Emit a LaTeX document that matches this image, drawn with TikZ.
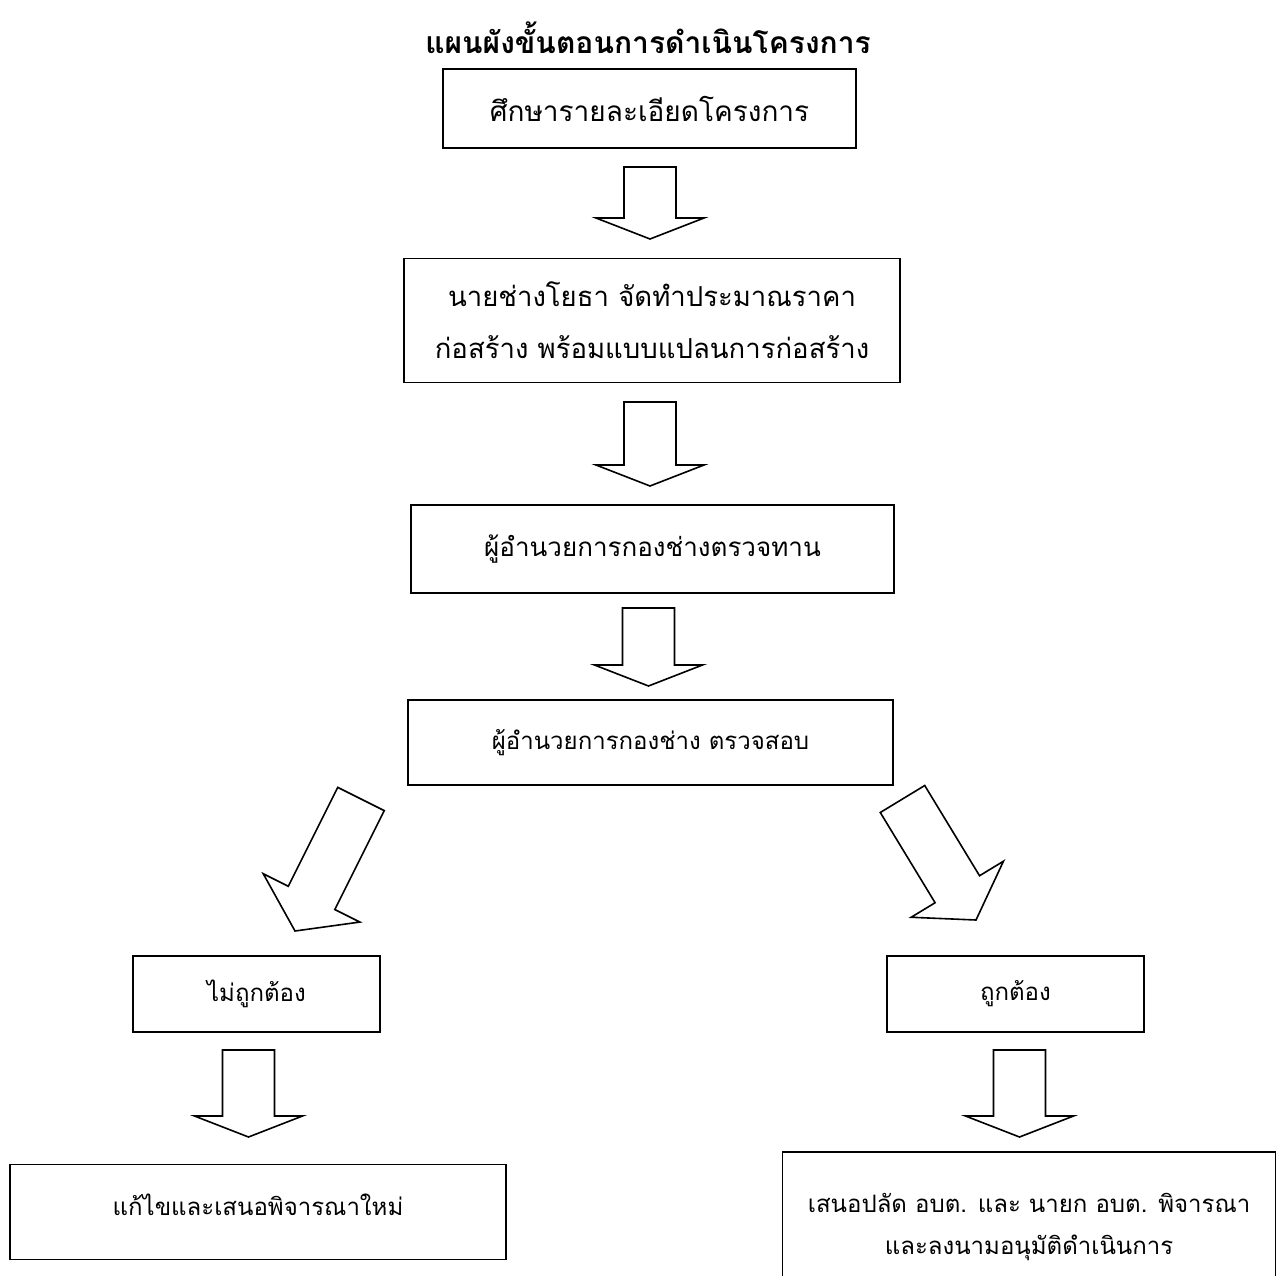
\documentclass[tikz,border=0pt]{standalone}
\usepackage{fontspec}
\setmainfont[Script=Thai]{Loma}
\usetikzlibrary{calc}

\tikzset{
  box/.style={draw=black, line width=1.6pt, inner sep=0pt, align=center},
  bigarrow/.style={draw=black, line width=1.6pt, line join=miter},
  bodytext/.style={font=\fontsize{26}{34}\selectfont},
  smalltext/.style={font=\fontsize{24}{30}\selectfont},
}

% hollow block arrow from #2 (middle of the tail) to #3 (tip), #1 = head length
\newcommand{\fatarrow}[3][21pt]{%
  \coordinate (headbase) at ($(#3)!#1!(#2)$);
  \draw[bigarrow] ($(#2)!26pt!90:(#3)$) -- ($(headbase)!26pt!90:(#3)$)
    -- ($(headbase)!54pt!90:(#3)$) -- (#3)
    -- ($(headbase)!54pt!-90:(#3)$) -- ($(headbase)!26pt!-90:(#3)$)
    -- ($(#2)!26pt!-90:(#3)$) -- cycle;
}

\begin{document}
\begin{tikzpicture}[x=1pt, y=-1pt]
  \useasboundingbox (0,0) rectangle (1279,1276);
  \clip (0,0) rectangle (1279,1276);

  \node[font=\fontsize{30}{36}\selectfont\bfseries] (title) at (648,38) {แผนผังขั้นตอนการดำเนินโครงการ};

  % main column
  \node[box, font=\fontsize{28}{34}\selectfont, minimum width=413pt, minimum height=79pt] (study) at (649.5,108.5) {ศึกษารายละเอียดโครงการ};
  \node[box, font=\fontsize{27.5}{34}\selectfont, minimum width=496pt, minimum height=124pt] (estimate) at (652,320.5)
    {นายช่างโยธา จัดทำประมาณราคา\\[18pt]ก่อสร้าง พร้อมแบบแปลนการก่อสร้าง};
  \node[box, bodytext, minimum width=483pt, minimum height=88pt] (review) at (652.5,549) {ผู้อำนวยการกองช่างตรวจทาน};
  \node[box, smalltext, minimum width=485pt, minimum height=85pt] (check) at (650.5,742.5) {ผู้อำนวยการกองช่าง ตรวจสอบ};

  % two branches
  \node[box, smalltext, minimum width=247pt, minimum height=76pt] (wrong) at (256.5,994) {ไม่ถูกต้อง};
  \node[box, smalltext, minimum width=257pt, minimum height=76pt] (right) at (1015.5,994) {ถูกต้อง};
  \node[box, smalltext, minimum width=496pt, minimum height=95pt, text depth=14pt] (redo) at (258,1212) {แก้ไขและเสนอพิจารณาใหม่};
  \node[box, smalltext, minimum width=493pt, minimum height=150pt] (approve) at (1029,1227)
    {เสนอปลัด อบต. และ นายก อบต. พิจารณา\\[12pt]และลงนามอนุมัติดำเนินการ};

  % arrow ends
  \coordinate (a1s) at (650,167);    \coordinate (a1e) at (650,239);
  \coordinate (a2s) at (650,402);    \coordinate (a2e) at (650,486);
  \coordinate (a3s) at (648.5,608);  \coordinate (a3e) at (648.5,686);
  \coordinate (dls) at (361,799);    \coordinate (dle) at (295,931);
  \coordinate (drs) at (902.5,799);  \coordinate (dre) at (976,920);
  \coordinate (a4s) at (248.5,1050); \coordinate (a4e) at (248.5,1137);
  \coordinate (a5s) at (1019.5,1050); \coordinate (a5e) at (1019.5,1137);

  \fatarrow{a1s}{a1e}
  \fatarrow{a2s}{a2e}
  \fatarrow{a3s}{a3e}
  \fatarrow[37pt]{dls}{dle}
  \fatarrow[36pt]{drs}{dre}
  \fatarrow{a4s}{a4e}
  \fatarrow{a5s}{a5e}
\end{tikzpicture}
\end{document}
